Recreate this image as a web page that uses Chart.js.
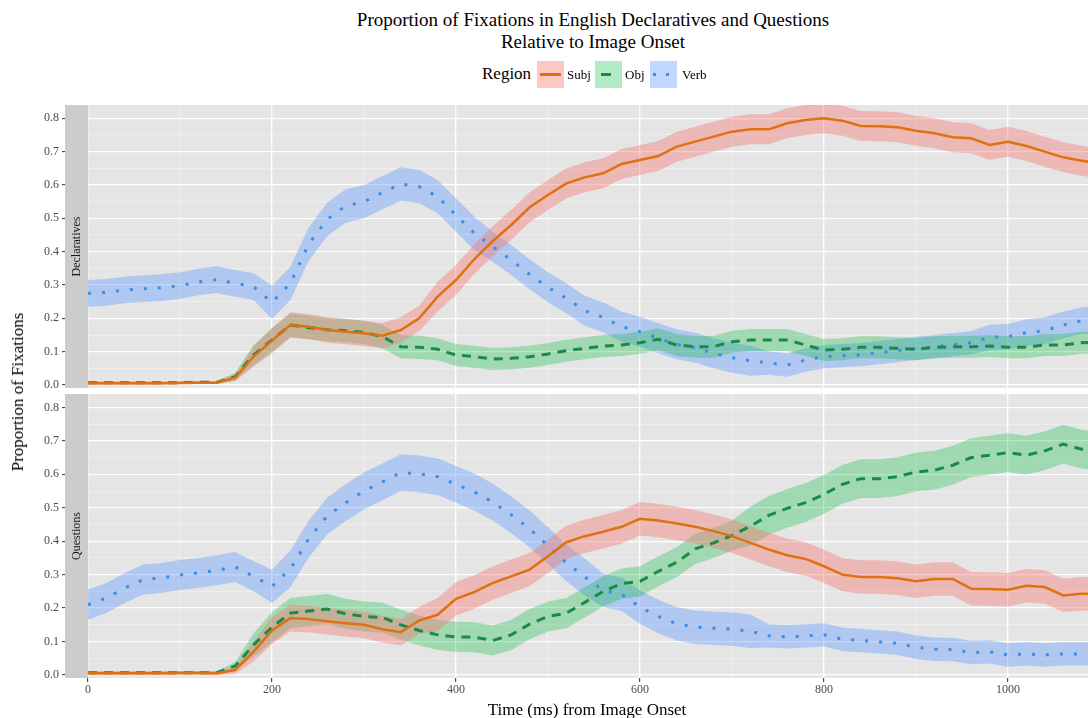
<!DOCTYPE html>
<html>
<head>
<meta charset="utf-8">
<title>Proportion of Fixations</title>
<script src="https://cdn.jsdelivr.net/npm/chart.js@4/dist/chart.umd.min.js"></script>
<style>
  html, body { margin: 0; padding: 0; background: #fff; }
  #page {
    position: relative; width: 1088px; height: 718px; overflow: hidden;
    font-family: "Liberation Serif", "DejaVu Serif", serif; color: #000;
  }
  .abs { position: absolute; white-space: nowrap; }
  #title { left: 98px; width: 990px; top: 9px; text-align: center; font-size: 19px; line-height: 22px; }
  .legend-title { font-size: 17px; top: 64px; left: 482px; }
  .key { position: absolute; top: 61px; width: 27px; height: 27px; }
  .key-label { font-size: 13px; top: 67px; }
  #ytitle { left: 18px; top: 392px; font-size: 17px; transform: translate(-50%, -50%) rotate(-90deg); }
  #xtitle { left: 587px; top: 710px; font-size: 17px; transform: translate(-50%, -50%); }
  canvas { position: absolute; left: 0; }
</style>
</head>
<body>
<div id="page">
  <div class="abs" id="title">Proportion of Fixations in English Declaratives and Questions<br>Relative to Image Onset</div>

  <canvas id="declChart" width="1088" height="315" style="top:85px"></canvas>
  <canvas id="questChart" width="1088" height="330" style="top:380px"></canvas>

  <div class="abs legend-title">Region</div>
  <div class="key" style="left:537px; background:rgba(248,118,109,0.4)">
    <div style="position:absolute; left:3px; top:12px; width:21px; height:3px; background:#e07010"></div>
  </div>
  <div class="abs key-label" style="left:567px">Subj</div>
  <div class="key" style="left:595px; background:rgba(0,186,56,0.3)">
    <div style="position:absolute; left:6px; top:12px; width:10px; height:3px; background:#1a8a4a"></div>
  </div>
  <div class="abs key-label" style="left:625px">Obj</div>
  <div class="key" style="left:650px; background:rgba(97,156,255,0.4)">
    <div style="position:absolute; left:3px; top:12px; width:3px; height:3px; background:#3a8ee6"></div>
    <div style="position:absolute; left:16px; top:12px; width:3px; height:3px; background:#3a8ee6"></div>
  </div>
  <div class="abs key-label" style="left:682px">Verb</div>

  <div class="abs" id="ytitle">Proportion of Fixations</div>
  <div class="abs" id="xtitle">Time (ms) from Image Onset</div>
</div>

<script>
// ---- data ----
const timeMs = [0, 20, 40, 60, 80, 100, 120, 140, 160, 180, 200, 220, 240, 260, 280, 300, 320, 340, 360,
  380, 400, 420, 440, 460, 480, 500, 520, 540, 560, 580, 600, 620, 640, 660, 680, 700, 720,
  740, 760, 780, 800, 820, 840, 860, 880, 900, 920, 940, 960, 980, 1000, 1020, 1040, 1060, 1080, 1090];

// Declaratives
const declSubj = [.005, .005, .005, .005, .005, .006, .007, .007, .022, .085, .133, .18, .175, .165, .16, .155, .148, .165, .2,
  .265, .315, .378, .432, .48, .533, .57, .605, .623, .635, .663, .675, .687, .715, .73, .745, .76, .767,
  .767, .785, .795, .8, .793, .777, .776, .773, .763, .755, .743, .74, .72, .73, .717, .7, .683, .673, .668];
const declObj = [.007, .007, .007, .007, .007, .007, .008, .008, .025, .09, .135, .18, .172, .166, .163, .158, .145, .115, .113,
  .107, .09, .085, .078, .08, .085, .093, .103, .11, .117, .12, .127, .137, .12, .115, .115, .13, .135,
  .135, .135, .12, .105, .107, .113, .113, .11, .107, .113, .115, .115, .117, .113, .113, .12, .12, .127, .128];
const declVerb = [.275, .278, .285, .289, .292, .298, .309, .316, .305, .295, .248, .305, .423, .497, .537, .55, .577, .603, .595,
  .565, .51, .455, .415, .375, .332, .293, .26, .223, .203, .175, .16, .14, .122, .112, .095, .082, .073,
  .066, .06, .075, .085, .088, .091, .097, .103, .11, .115, .121, .127, .143, .145, .157, .163, .18, .193, .195];

// Questions
const questSubj = [.005, .005, .005, .005, .005, .006, .006, .005, .015, .07, .133, .17, .167, .161, .155, .15, .137, .128, .163,
  .18, .228, .248, .275, .295, .315, .355, .397, .415, .428, .443, .467, .462, .453, .443, .43, .415, .395,
  .375, .358, .347, .325, .3, .293, .293, .289, .28, .287, .287, .258, .257, .255, .267, .263, .238, .243, .243];
const questObj = [.007, .007, .007, .007, .007, .007, .007, .007, .027, .09, .143, .185, .191, .197, .183, .175, .172, .15, .133,
  .12, .114, .113, .103, .12, .152, .175, .185, .217, .25, .273, .28, .31, .337, .377, .395, .417, .445,
  .477, .498, .515, .54, .57, .587, .587, .593, .607, .612, .627, .65, .657, .665, .657, .67, .69, .675, .672];
const questVerb = [.21, .23, .26, .285, .29, .299, .305, .313, .323, .295, .265, .317, .407, .475, .515, .55, .577, .605, .601,
  .593, .57, .547, .517, .479, .437, .387, .335, .293, .253, .241, .203, .175, .153, .143, .14, .137, .131,
  .117, .114, .117, .12, .107, .103, .099, .095, .083, .077, .076, .067, .069, .06, .063, .06, .063, .063, .063];

// ribbon half-widths
const declSubjSe = [.004, .004, .004, .004, .004, .004, .004, .004, .01, .03, .038, .038, .038, .038, .038, .038, .038, .038, .038,
  .045, .045, .045, .045, .045, .045, .045, .045, .045, .045, .045, .045, .045, .045, .045, .045, .045, .045,
  .045, .045, .045, .045, .045, .045, .045, .045, .045, .045, .045, .045, .045, .045, .045, .045, .045, .045, .045];
const declObjSe = [.004, .004, .004, .004, .004, .004, .004, .004, .012, .03, .035, .035, .035, .035, .035, .035, .035, .035, .035,
  .033, .033, .033, .033, .033, .033, .033, .033, .033, .033, .033, .033, .033, .033, .033, .033, .033, .033,
  .033, .033, .033, .033, .033, .033, .033, .033, .033, .033, .033, .033, .033, .033, .033, .033, .033, .033, .033];
const declVerbSe = [.04, .04, .04, .04, .04, .04, .04, .04, .04, .04, .05, .05, .05, .05, .05, .05, .05, .05, .05,
  .05, .05, .05, .045, .045, .045, .045, .045, .045, .045, .045, .045, .045, .045, .045, .045, .045, .045,
  .035, .035, .035, .035, .035, .035, .035, .035, .035, .035, .035, .035, .038, .038, .04, .04, .04, .04, .04];
const questSubjSe = [.005, .005, .005, .005, .005, .005, .005, .005, .012, .03, .04, .04, .04, .04, .04, .04, .04, .04, .04,
  .05, .05, .05, .05, .05, .05, .05, .05, .05, .05, .05, .05, .05, .05, .05, .05, .05, .05,
  .05, .05, .05, .05, .05, .05, .05, .05, .05, .05, .05, .05, .05, .05, .05, .05, .05, .05, .05];
const questObjSe = [.005, .005, .005, .005, .005, .005, .005, .005, .012, .035, .045, .045, .045, .045, .045, .045, .045, .045, .045,
  .045, .045, .045, .045, .045, .045, .045, .045, .045, .045, .045, .045, .045, .045, .045, .045, .045, .058,
  .058, .058, .058, .058, .058, .058, .058, .058, .058, .058, .058, .058, .058, .058, .058, .058, .058, .058, .058];
const questVerbSe = [.045, .045, .045, .045, .045, .045, .045, .045, .045, .045, .05, .055, .055, .055, .055, .055, .055, .055, .055,
  .055, .055, .055, .055, .055, .055, .055, .055, .055, .05, .05, .05, .05, .05, .05, .05, .05, .05,
  .035, .035, .035, .035, .035, .035, .035, .035, .035, .035, .035, .035, .035, .035, .035, .035, .035, .035, .035];

// ---- styles ----
const SUBJ_COLOR = '#e07010';
const OBJ_COLOR  = '#1a8a4a';
const VERB_COLOR = '#3a8ee6';
const SUBJ_FILL  = 'rgba(248,118,109,0.4)';
const OBJ_FILL   = 'rgba(0,186,56,0.3)';
const VERB_FILL  = 'rgba(97,156,255,0.4)';
const FONT = 'Liberation Serif';

const toPoints = (vals, se = null, sign = 0) => timeMs.map((t, i) => ({ x: t, y: vals[i] + (se ? sign * se[i] : 0) }));

const ribbon = (vals, se, fill) => [
  { data: toPoints(vals, se, -1), borderColor: 'transparent', borderWidth: 0, pointRadius: 0, fill: false, backgroundColor: fill },
  { data: toPoints(vals, se, 1), borderColor: 'transparent', borderWidth: 0, pointRadius: 0, fill: '-1', backgroundColor: fill }
];

const isMajorY = v => Math.abs(Math.round(v * 10) - v * 10) < 1e-6;
const isMajorX = v => Math.round(v) % 200 === 0;

// panel background (grey90)
const panelBg = {
  id: 'panelBg',
  beforeDraw(chart) {
    const { ctx, chartArea: a } = chart;
    ctx.save();
    ctx.fillStyle = '#e5e5e5';
    ctx.fillRect(a.left, a.top, a.width, a.height);
    ctx.restore();
  }
};

// facet strip on the left side of the panel
const facetStrip = {
  id: 'facetStrip',
  afterDraw(chart, args, opts) {
    const { ctx, chartArea: a } = chart;
    ctx.save();
    ctx.fillStyle = '#cccccc';
    ctx.fillRect(a.left - 23, a.top, 23, a.height);
    ctx.translate(a.left - 11.5, (a.top + a.bottom) / 2);
    ctx.rotate(-Math.PI / 2);
    ctx.fillStyle = '#1a1a1a';
    ctx.font = `12px "${FONT}"`;
    ctx.textAlign = 'center';
    ctx.textBaseline = 'middle';
    ctx.fillText(opts.label, 0, 0);
    ctx.restore();
  }
};

const makePanel = (canvasId, label, subj, obj, verb, subjSe, objSe, verbSe, showX, pad) => new Chart(document.getElementById(canvasId), {
  type: 'line',
  data: {
    datasets: [
      ...ribbon(subj, subjSe, SUBJ_FILL),
      ...ribbon(obj, objSe, OBJ_FILL),
      ...ribbon(verb, verbSe, VERB_FILL),
      { data: toPoints(subj), borderColor: SUBJ_COLOR, borderWidth: 2.5, pointRadius: 0, fill: false, tension: 0 },
      { data: toPoints(obj), borderColor: OBJ_COLOR, borderWidth: 3, borderDash: [9, 7], pointRadius: 0, fill: false, tension: 0 },
      { data: toPoints(verb), borderColor: VERB_COLOR, borderWidth: 3, borderDash: [3, 11], borderCapStyle: 'butt', pointRadius: 0, fill: false, tension: 0 }
    ]
  },
  options: {
    responsive: false,
    animation: false,
    devicePixelRatio: 1,
    layout: { padding: pad },
    plugins: {
      legend: { display: false },
      tooltip: { enabled: false },
      filler: { drawTime: 'beforeDatasetsDraw' },
      facetStrip: { label }
    },
    scales: {
      x: {
        type: 'linear', min: 0, max: 1087,
        border: { display: false },
        ticks: {
          display: showX, stepSize: 100, includeBounds: false, autoSkip: false, maxRotation: 0, padding: 1,
          color: '#4d4d4d', font: { family: FONT, size: 12 },
          callback: v => isMajorX(v) ? String(v) : ''
        },
        grid: {
          color: c => c.tick && isMajorX(c.tick.value) ? '#ffffff' : '#f4f4f4',
          lineWidth: c => c.tick && isMajorX(c.tick.value) ? 1.3 : 0.6,
          drawTicks: showX, tickLength: 4, tickWidth: 1,
          tickColor: c => c.tick && isMajorX(c.tick.value) ? '#333333' : 'rgba(0,0,0,0)'
        },
        afterFit: s => { s.height = showX ? 22 : 0; }
      },
      y: {
        min: -0.009, max: 0.84,
        border: { display: false },
        ticks: {
          stepSize: 0.05, includeBounds: false, autoSkip: false, padding: 3,
          color: '#4d4d4d', font: { family: FONT, size: 12 },
          callback: v => isMajorY(v) ? v.toFixed(1) : ''
        },
        grid: {
          color: c => c.tick && isMajorY(c.tick.value) ? '#ffffff' : '#f4f4f4',
          lineWidth: c => c.tick && isMajorY(c.tick.value) ? 1.3 : 0.6,
          tickLength: 26, tickWidth: 1,
          tickColor: c => c.tick && isMajorY(c.tick.value) ? '#333333' : 'rgba(0,0,0,0)'
        },
        afterFit: s => { s.width = 88; }
      }
    }
  },
  plugins: [panelBg, facetStrip]
});

// top panel: chart area 105..388, bottom panel: 394..678
makePanel('declChart', 'Declaratives', declSubj, declObj, declVerb, declSubjSe, declObjSe, declVerbSe, false,
  { top: 20, bottom: 12, left: 0, right: 0 });
makePanel('questChart', 'Questions', questSubj, questObj, questVerb, questSubjSe, questObjSe, questVerbSe, true,
  { top: 14, bottom: 10, left: 0, right: 0 });
</script>
</body>
</html>
